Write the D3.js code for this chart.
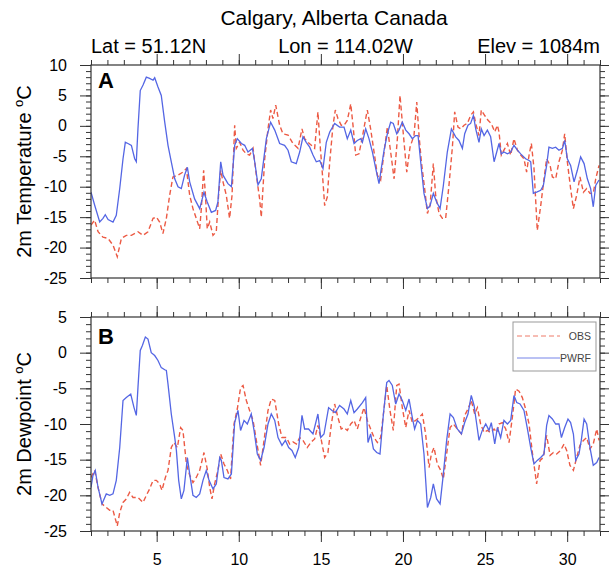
<!DOCTYPE html>
<html>
<head>
<meta charset="utf-8">
<script src="https://cdn.jsdelivr.net/npm/d3@7"></script>
<style>
  body { margin: 0; background: #fff; }
  svg { display: block; font-family: "Liberation Sans", Arial, Helvetica, sans-serif; }
</style>
</head>
<body>
<div id="chart"></div>
<script>
// station info
const title = "Calgary, Alberta Canada"
const subLeft = "Lat = 51.12N", subMid = "Lon = 114.02W", subRight = "Elev = 1084m"

// x axis (day of month)
const xDomain = [1, 32]
const xTicks = [5, 10, 15, 20, 25, 30]

// panel A : 2m temperature
const tempTicks = [-25, -20, -15, -10, -5, 0, 5, 10]
const tempDaysWrf = [1.00,1.22,1.53,1.73,1.87,2.04,2.34,2.54,2.75,2.95,3.09,3.25,3.46,3.66,3.76,3.86,4.00,4.17,4.37,4.57,4.78,4.88,5.08,5.28,5.49,5.69,5.89,6.10,6.30,6.50,6.70,6.87,7.01,7.31,7.62,7.88,8.08,8.33,8.59,8.73,8.90,9.04,9.34,9.55,9.75,9.91,10.16,10.36,10.56,10.83,10.97,11.17,11.37,11.68,11.94,12.19,12.49,12.79,13.00,13.20,13.50,13.71,13.91,14.11,14.32,14.52,14.72,14.93,15.13,15.33,15.54,15.84,16.14,
  16.41,16.61,16.82,17.02,17.22,17.43,17.53,17.73,17.93,18.14,18.34,18.54,18.68,18.85,19.05,19.25,19.41,19.62,19.76,19.96,20.17,20.37,20.57,20.77,20.92,21.12,21.28,21.49,21.65,21.85,22.05,22.26,22.46,22.70,22.95,23.21,23.41,23.62,23.76,23.96,24.12,24.29,24.43,24.63,24.77,24.94,25.14,25.34,25.55,25.71,25.85,25.99,26.15,26.36,26.56,26.76,26.97,27.17,27.47,27.68,27.78,27.94,28.14,28.39,28.55,28.75,28.89,29.10,29.30,29.50,29.71,29.85,30.01,30.21,30.42,30.62,30.82,31.03,31.23,31.43,31.59,31.74,31.94]
const tempWrf = [-10.9,-13.0,-15.8,-15.2,-14.6,-15.4,-15.8,-14.7,-10.3,-5.4,-2.7,-2.9,-3.2,-5.4,-5.9,-0.5,5.8,6.7,8.0,7.8,7.5,7.9,6.4,5.0,0.6,-3.2,-5.9,-8.7,-10.0,-10.3,-8.1,-6.8,-9.2,-12.0,-13.6,-10.9,-12.5,-14.2,-13.9,-12.5,-5.9,-8.1,-9.5,-10.0,-3.2,-2.1,-2.9,-3.2,-4.3,-3.7,-5.9,-9.7,-8.7,-2.1,0.6,-0.7,-2.9,-3.2,-4.0,-5.9,-6.2,-4.3,-1.8,-2.7,-3.5,-4.8,-5.9,-5.7,-7.0,-2.7,-1.0,0.4,-0.2,
  -0.2,-2.1,-0.7,-2.9,-2.4,-2.1,-2.7,-0.5,-2.1,-4.3,-7.0,-9.5,-7.0,-4.0,-1.3,0.6,0.4,-1.3,-0.7,0.6,-0.7,-1.3,-2.1,-1.6,-1.6,-7.0,-11.1,-13.6,-13.1,-11.1,-12.5,-13.6,-9.8,-4.3,-0.5,-1.8,-2.4,-3.7,-1.3,0.1,0.4,1.7,-0.5,-2.7,-0.5,-1.6,-0.7,-1.8,-5.9,-4.3,-2.9,-4.6,-4.3,-4.6,-4.3,-3.2,-4.0,-4.6,-5.4,-5.7,-5.9,-11.1,-10.9,-10.6,-9.8,-6.5,-3.5,-3.7,-3.5,-4.0,-3.7,-2.4,-5.4,-6.5,-9.2,-7.3,-5.1,-6.2,-8.7,-10.3,-13.3,-9.8,-8.9]
const tempDaysObs = [1.00,1.22,1.43,1.73,2.04,2.34,2.60,2.85,3.15,3.46,3.86,4.17,4.47,4.78,4.98,5.18,5.38,5.59,5.79,5.99,6.30,6.60,6.81,7.01,7.21,7.41,7.62,7.72,7.86,7.96,8.08,8.23,8.43,8.63,8.77,8.90,9.04,9.24,9.44,9.59,9.75,9.85,10.05,10.26,10.46,10.66,10.87,11.07,11.27,11.37,11.58,11.78,11.94,12.08,12.25,12.49,12.69,13.00,13.30,13.61,13.85,14.01,14.21,14.42,14.62,14.82,14.97,15.13,15.23,15.39,15.54,15.74,15.88,16.04,16.24,
  16.41,16.61,16.82,16.98,17.12,17.32,17.53,17.73,17.83,18.03,18.24,18.44,18.64,18.85,19.05,19.25,19.46,19.66,19.82,20.02,20.23,20.43,20.67,20.84,20.98,21.12,21.32,21.49,21.65,21.85,21.99,22.20,22.40,22.60,22.80,23.01,23.15,23.35,23.52,23.72,23.92,24.12,24.29,24.43,24.63,24.77,24.98,25.18,25.38,25.59,25.75,25.85,25.99,26.15,26.36,26.56,26.76,26.97,27.17,27.37,27.53,27.68,27.82,27.98,28.18,28.39,28.59,28.75,28.96,29.10,29.30,29.50,29.71,29.85,30.01,30.21,30.38,30.58,30.78,30.99,31.19,31.39,31.59,31.74,31.94]
const tempObs = [-16.3,-15.5,-17.4,-18.3,-18.5,-19.6,-21.5,-18.5,-18.0,-18.0,-17.4,-18.0,-17.4,-15.2,-15.0,-15.8,-17.7,-15.2,-11.4,-8.4,-8.1,-7.6,-7.0,-11.4,-13.6,-15.2,-16.9,-13.6,-7.3,-10.9,-16.9,-15.8,-18.0,-17.4,-11.4,-7.3,-9.2,-11.4,-15.2,-11.4,0.1,-3.7,-2.7,-4.0,-4.6,-4.8,-3.7,-8.1,-12.0,-15.0,-5.4,-0.5,2.6,1.2,3.4,0.1,-1.3,-1.5,-2.9,-3.7,-0.5,-2.1,-2.7,-3.2,-3.7,2.3,-3.7,-9.2,-13.1,-11.7,-5.9,0.1,2.6,1.2,0.1,
  0.1,0.9,3.6,-0.5,-4.8,-4.6,-1.8,1.2,2.6,-0.5,-4.3,-8.1,-8.9,-4.3,-0.2,-4.3,-8.7,-2.1,5.0,-1.3,-7.6,-3.5,-1.6,3.9,-1.6,-5.9,-10.3,-14.4,-13.1,-6.2,-11.4,-14.4,-15.2,-15.2,-9.8,-3.5,2.3,-0.2,-0.5,0.1,0.4,1.7,2.3,0.4,-1.6,2.6,1.7,0.9,0.4,-1.0,0.1,-1.0,-4.8,-4.0,-2.9,-4.8,-2.1,-4.0,-4.8,-5.4,-7.6,-4.8,-2.9,-7.0,-17.2,-13.1,-8.7,-5.4,-6.5,-8.4,-8.7,-5.9,-4.0,-1.3,-5.9,-10.3,-13.6,-11.4,-8.4,-10.9,-10.3,-11.1,-11.1,-8.7,-6.5]

// panel B : 2m dewpoint
const dewTicks = [-25, -20, -15, -10, -5, 0, 5]
const dewDaysWrf = [1.00,1.12,1.26,1.43,1.67,1.93,2.14,2.34,2.54,2.75,2.95,3.15,3.42,3.62,3.76,3.86,4.00,4.13,4.31,4.47,4.67,4.88,5.08,5.28,5.49,5.59,5.69,5.89,6.10,6.20,6.34,6.50,6.66,6.87,7.01,7.21,7.41,7.62,7.82,8.02,8.19,8.43,8.63,8.84,8.94,9.10,9.34,9.55,9.75,9.95,10.11,10.32,10.52,10.76,10.93,11.13,11.33,11.54,11.78,11.98,12.19,12.39,12.63,12.84,13.04,13.24,13.44,13.65,13.85,14.01,14.25,14.52,14.82,14.99,15.19,15.47,15.68,15.88,16.14,
  16.41,16.61,16.82,17.02,17.22,17.53,17.73,17.87,18.03,18.20,18.40,18.60,18.81,19.01,19.15,19.35,19.56,19.76,19.96,20.17,20.37,20.57,20.71,20.88,21.08,21.28,21.49,21.69,21.85,22.05,22.26,22.46,22.66,22.87,23.07,23.31,23.56,23.76,23.96,24.16,24.33,24.49,24.63,24.83,25.04,25.24,25.38,25.59,25.75,25.95,26.15,26.36,26.56,26.76,26.93,27.13,27.37,27.58,27.78,27.98,28.18,28.39,28.59,28.75,28.89,29.10,29.30,29.50,29.65,29.85,30.05,30.21,30.38,30.52,30.72,30.86,31.03,31.19,31.39,31.59,31.80,31.94]
const dewWrf = [-18.9,-17.2,-16.5,-18.9,-21.2,-19.8,-20.0,-19.8,-17.9,-13.3,-6.7,-6.3,-5.8,-7.7,-8.8,-4.9,0.3,1.0,2.2,1.9,0.0,-0.4,-1.1,-2.1,-2.4,-2.5,-4.4,-8.6,-11.9,-13.7,-17.9,-20.5,-19.3,-14.7,-17.0,-20.0,-20.3,-19.8,-17.9,-16.5,-17.9,-19.1,-18.4,-14.7,-15.1,-17.5,-17.7,-17.0,-9.8,-8.1,-10.9,-9.5,-10.0,-8.6,-10.9,-14.2,-15.1,-13.3,-10.0,-8.6,-9.5,-11.9,-13.0,-12.3,-13.3,-13.7,-14.7,-13.3,-8.8,-10.7,-10.7,-11.4,-8.6,-11.9,-11.4,-7.7,-8.1,-8.4,-7.4,
  -7.9,-8.6,-6.7,-8.4,-7.9,-7.0,-6.3,-12.6,-11.4,-13.5,-14.0,-14.2,-8.6,-4.2,-3.9,-4.6,-7.2,-5.8,-6.7,-8.1,-6.5,-9.1,-10.7,-9.5,-10.0,-14.2,-21.7,-20.3,-18.4,-20.5,-21.2,-17.0,-12.3,-8.6,-9.1,-10.7,-11.4,-9.8,-8.6,-6.0,-7.4,-10.0,-12.3,-10.9,-10.0,-10.9,-9.8,-12.8,-10.5,-11.9,-9.5,-10.0,-9.5,-6.0,-7.0,-7.2,-8.1,-10.7,-13.3,-15.6,-15.1,-14.7,-14.2,-10.2,-8.8,-9.3,-10.0,-10.0,-11.9,-10.5,-9.3,-9.8,-11.4,-15.1,-14.2,-12.3,-9.3,-10.0,-13.3,-15.8,-15.4,-14.7]
const dewDaysObs = [1.00,1.22,1.43,1.67,1.93,2.14,2.34,2.60,2.75,2.95,3.15,3.35,3.56,3.86,4.17,4.37,4.57,4.78,4.98,5.18,5.32,5.53,5.69,5.89,6.05,6.26,6.46,6.60,6.81,7.01,7.21,7.41,7.62,7.88,8.08,8.23,8.37,8.53,8.73,8.90,9.10,9.30,9.50,9.71,9.91,10.11,10.26,10.46,10.66,10.87,11.07,11.33,11.48,11.78,11.98,12.19,12.43,12.63,12.90,13.10,13.30,13.51,13.71,13.91,14.17,14.42,14.62,14.82,15.03,15.23,15.43,15.64,15.84,16.04,16.24,
  16.41,16.61,16.82,17.02,17.22,17.43,17.63,17.83,18.03,18.24,18.44,18.64,18.81,19.01,19.21,19.41,19.62,19.76,19.96,20.17,20.37,20.57,20.77,20.98,21.18,21.38,21.59,21.73,21.89,22.09,22.30,22.46,22.66,22.87,23.07,23.31,23.56,23.76,23.96,24.16,24.37,24.53,24.73,24.94,25.14,25.34,25.55,25.71,25.85,26.05,26.26,26.46,26.66,26.86,27.07,27.27,27.47,27.68,27.88,28.14,28.35,28.55,28.75,28.96,29.16,29.36,29.60,29.81,29.97,30.17,30.38,30.58,30.78,30.99,31.19,31.39,31.59,31.80,31.94]
const dewObs = [-17.5,-16.5,-18.9,-21.2,-21.7,-22.1,-22.1,-24.3,-22.4,-21.0,-20.5,-19.6,-20.3,-20.3,-21.0,-20.0,-19.1,-17.9,-17.9,-18.4,-19.3,-17.5,-16.5,-13.3,-12.6,-13.3,-10.5,-10.9,-15.6,-17.2,-18.2,-17.5,-16.5,-14.0,-16.3,-18.9,-20.5,-18.4,-16.5,-14.2,-15.6,-16.5,-17.7,-10.0,-7.9,-4.9,-4.6,-6.7,-8.1,-9.5,-12.3,-15.8,-13.3,-8.1,-6.5,-6.7,-10.0,-11.9,-11.9,-12.8,-12.5,-12.8,-11.9,-12.3,-13.3,-12.5,-12.1,-10.2,-12.3,-14.7,-14.0,-10.0,-7.2,-9.1,-10.7,
  -10.5,-10.9,-10.0,-9.5,-10.7,-9.1,-7.7,-9.5,-10.7,-11.9,-12.6,-11.9,-8.6,-4.6,-8.1,-10.9,-4.6,-4.4,-7.7,-10.5,-8.1,-9.8,-9.5,-9.1,-8.6,-11.4,-16.1,-14.2,-13.3,-15.6,-16.5,-17.7,-14.2,-10.5,-10.0,-10.7,-11.4,-8.8,-7.9,-6.7,-8.6,-7.7,-10.0,-11.2,-10.9,-11.2,-10.7,-11.2,-10.0,-9.8,-10.7,-12.6,-9.1,-5.1,-5.4,-6.3,-7.9,-10.0,-14.0,-18.4,-15.1,-14.7,-11.6,-14.4,-14.0,-14.2,-13.7,-12.8,-13.7,-15.8,-16.5,-14.7,-13.0,-12.3,-11.9,-13.5,-12.8,-10.7,-12.3]

const obsColor = "#ec5a44"
const wrfColor = "#5466e4"
const frameColor = "#333"

var width = 609, height = 575
var left = 91, right = 600

var svg = d3.select("#chart").append("svg")
  .attr("width", width)
  .attr("height", height)

var x = d3.scaleLinear().domain(xDomain).range([left, right])
var xMinor = d3.range(xDomain[0], xDomain[1] + 1)

// titles
svg.append("text").attr("x", 334).attr("y", 25)
  .attr("text-anchor", "middle").style("font-size", "21px").text(title)
svg.append("text").attr("x", left).attr("y", 53)
  .attr("text-anchor", "start").style("font-size", "20px").text(subLeft)
svg.append("text").attr("x", (left + right) / 2).attr("y", 53)
  .attr("text-anchor", "middle").style("font-size", "20px").text(subMid)
svg.append("text").attr("x", right).attr("y", 53)
  .attr("text-anchor", "end").style("font-size", "20px").text(subRight)

function drawPanel(cfg) {
  var y = d3.scaleLinear().domain([cfg.ticks[0], cfg.ticks[cfg.ticks.length - 1]]).range([cfg.bottom, cfg.top])
  var yMinor = d3.range(cfg.ticks[0], cfg.ticks[cfg.ticks.length - 1] + 1)
  var g = svg.append("g")

  var clipId = "clip" + cfg.label
  svg.append("clipPath").attr("id", clipId)
    .append("rect").attr("x", left).attr("y", cfg.top)
    .attr("width", right - left).attr("height", cfg.bottom - cfg.top)

  // axes: left, right, top, bottom, major and minor
  function styleAxis(sel) {
    sel.selectAll(".domain").remove()
    sel.selectAll(".tick line").attr("stroke", frameColor).attr("stroke-width", 1)
    sel.selectAll(".tick text").style("font-size", "16px").attr("fill", "#000")
  }
  g.append("g").attr("transform", "translate(" + left + ",0)")
    .call(d3.axisLeft(y).tickValues(cfg.ticks).tickSize(11).tickPadding(13).tickFormat(d => String(d)))
    .call(styleAxis)
  g.append("g").attr("transform", "translate(" + left + ",0)")
    .call(d3.axisLeft(y).tickValues(yMinor).tickSize(5).tickFormat(""))
    .call(styleAxis)
  g.append("g").attr("transform", "translate(" + right + ",0)")
    .call(d3.axisRight(y).tickValues(cfg.ticks).tickSize(11).tickFormat(""))
    .call(styleAxis)
  g.append("g").attr("transform", "translate(" + right + ",0)")
    .call(d3.axisRight(y).tickValues(yMinor).tickSize(5).tickFormat(""))
    .call(styleAxis)
  g.append("g").attr("transform", "translate(0," + cfg.top + ")")
    .call(d3.axisTop(x).tickValues(xTicks).tickSize(11).tickFormat(""))
    .call(styleAxis)
  g.append("g").attr("transform", "translate(0," + cfg.top + ")")
    .call(d3.axisTop(x).tickValues(xMinor).tickSize(5).tickFormat(""))
    .call(styleAxis)
  g.append("g").attr("transform", "translate(0," + cfg.bottom + ")")
    .call(d3.axisBottom(x).tickValues(xTicks).tickSize(11).tickPadding(12)
      .tickFormat(cfg.xLabels ? (d => String(d)) : ""))
    .call(styleAxis)
  g.append("g").attr("transform", "translate(0," + cfg.bottom + ")")
    .call(d3.axisBottom(x).tickValues(xMinor).tickSize(5).tickFormat(""))
    .call(styleAxis)

  // data lines
  var line = d3.line().x(d => x(d[0])).y(d => y(d[1]))
  g.append("path")
    .datum(cfg.obsDays.map((d, i) => [d, cfg.obs[i]]))
    .attr("d", line)
    .attr("clip-path", "url(#" + clipId + ")")
    .style("fill", "none")
    .style("stroke", obsColor)
    .style("stroke-width", "1.4px")
    .style("stroke-dasharray", "5,3")
  g.append("path")
    .datum(cfg.wrfDays.map((d, i) => [d, cfg.wrf[i]]))
    .attr("d", line)
    .attr("clip-path", "url(#" + clipId + ")")
    .style("fill", "none")
    .style("stroke", wrfColor)
    .style("stroke-width", "1.3px")

  // frame
  g.append("rect").attr("x", left).attr("y", cfg.top)
    .attr("width", right - left).attr("height", cfg.bottom - cfg.top)
    .style("fill", "none").style("stroke", frameColor).style("stroke-width", 1.2)

  // panel letter
  g.append("text").attr("x", left + 7).attr("y", cfg.top + cfg.letterDy)
    .style("font-size", "22px").style("font-weight", "bold").text(cfg.label)

  // y title with superscript o
  var cy = (cfg.top + cfg.bottom) / 2
  var t = g.append("text")
    .attr("transform", "translate(31," + cy + ") rotate(-90)")
    .attr("text-anchor", "middle")
    .style("font-size", "20px")
  t.append("tspan").text(cfg.yTitle + " ")
  t.append("tspan").attr("dy", -8).style("font-size", "13px").text("o")
  t.append("tspan").attr("dy", 8).text("C")
}

drawPanel({ label: "A", top: 65, bottom: 278, ticks: tempTicks, letterDy: 23,
  obsDays: tempDaysObs, obs: tempObs, wrfDays: tempDaysWrf, wrf: tempWrf,
  yTitle: "2m Temperature", xLabels: false })
drawPanel({ label: "B", top: 317, bottom: 531, ticks: dewTicks, letterDy: 27,
  obsDays: dewDaysObs, obs: dewObs, wrfDays: dewDaysWrf, wrf: dewWrf,
  yTitle: "2m Dewpoint", xLabels: true })

// legend
var legend = svg.append("g")
legend.append("rect").attr("x", 513).attr("y", 322).attr("width", 83).attr("height", 49)
  .style("fill", "#fff").style("stroke", "#999").style("stroke-width", 1)
var legendItems = [["OBS", obsColor, "5,3", 336], ["PWRF", wrfColor, null, 358]]
legendItems.forEach(function (it) {
  legend.append("line").attr("x1", 517).attr("x2", 560).attr("y1", it[3]).attr("y2", it[3])
    .style("stroke", it[1]).style("stroke-width", 1).style("opacity", 0.8)
    .style("stroke-dasharray", it[2])
  legend.append("text").attr("x", 591).attr("y", it[3] + 4)
    .attr("text-anchor", "end").style("font-size", "10.5px").attr("fill", "#444").text(it[0])
})
</script>
</body>
</html>
